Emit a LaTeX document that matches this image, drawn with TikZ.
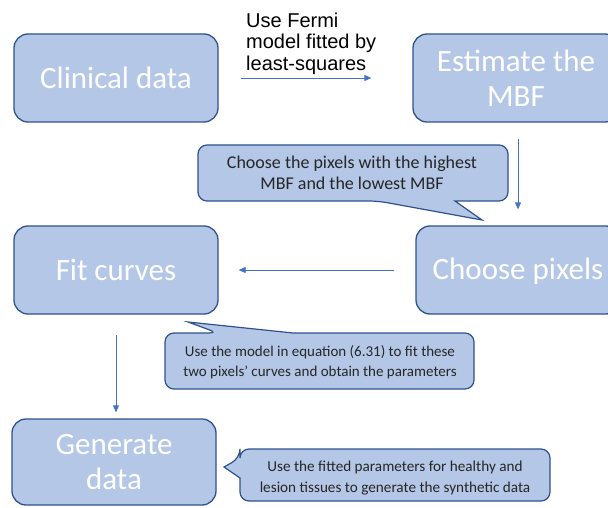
\documentclass[tikz,border=0pt]{standalone}
\usepackage{fontspec}
\setmainfont{Carlito}
\newfontfamily\arialfont{Liberation Sans}
\usetikzlibrary{arrows.meta}
\definecolor{boxfill}{HTML}{B4C7E7}
\definecolor{boxline}{HTML}{2F528F}
\definecolor{arrowblue}{HTML}{4472C4}
\tikzset{
  stepbox/.style={draw=boxline, line width=1.3pt, fill=boxfill, rounded corners=14pt,
    text=white, font=\fontsize{31}{35}\selectfont, align=center, inner sep=0pt},
  callout/.style={draw=boxline, line width=1.2pt, fill=boxfill},
  calltext/.style={text=black!85, align=center, inner sep=0pt},
  flow/.style={draw=arrowblue, line width=0.8pt, -{Triangle[length=7pt,width=6pt]}},
}
\begin{document}
\begin{tikzpicture}[x=1pt,y=-1pt]
\useasboundingbox (0,0) rectangle (608,508);

% process steps
\node[stepbox, minimum width=204pt, minimum height=88pt] (clin) at (116,78) {Clinical data};
\node[stepbox, minimum width=206pt, minimum height=88pt] (est) at (516,78) {Estimate the\\MBF};
\node[stepbox, minimum width=204pt, minimum height=88pt] (choose) at (518,270) {};
\node[text=white, font=\fontsize{31}{35}\selectfont, inner sep=0pt] (choosetxt) at (518,271) {Choose pixels};
\node[stepbox, minimum width=204pt, minimum height=88pt] (fit) at (116,270) {Fit curves};
\node[stepbox, minimum width=204pt, minimum height=86pt] (gen) at (114,462) {Generate\\data};

% label of the first step
\node[anchor=north west, align=left, inner sep=0pt, text=black,
      font=\arialfont\fontsize{20}{21.5}\selectfont] (fermi) at (246,12.5)
  {Use Fermi\\model fitted by\\least-squares};

% connectors
\draw[flow, shorten <=22pt, shorten >=41pt] (clin.east) -- (est.west);
\draw[flow, shorten <=16pt, shorten >=16pt] (est.south -| choose.north) -- (choose.north);
\draw[flow, shorten <=21pt, shorten >=20pt] (choose.west) -- (fit.east);
\draw[flow, shorten <=20pt, shorten >=6pt] (fit.south) -- (fit.south |- gen.north);

% callouts
\draw[callout] (300,145) [rounded corners=9pt] -- (198,145) -- (198,201) -- (378,201)
  [sharp corners] -- (482,220) -- (455,201) [rounded corners=9pt] -- (508,201) -- (508,145) -- cycle;
\node[calltext, font=\fontsize{18}{21.5}\selectfont] (c1) at (352,173)
  {Choose the pixels with the highest\\MBF and the lowest MBF};

\draw[callout] (350,389) [rounded corners=9pt] -- (165,389) -- (165,333) -- (218,333)
  [sharp corners] -- (188,322) -- (293,333) [rounded corners=9pt] -- (474,333) -- (474,389) -- cycle;
\node[calltext, font=\fontsize{15}{19.5}\selectfont] (c2) at (320,362)
  {Use the model in equation (6.31) to fit these\\two pixels' curves and obtain the parameters};

\draw[callout] (400,449) [rounded corners=9pt] -- (240,449) -- (240,458)
  [sharp corners] -- (224,467) -- (240,478) [rounded corners=9pt] -- (240,501) -- (550,501) -- (550,449) -- cycle;
\node[calltext, font=\fontsize{15.2}{20.5}\selectfont] (c3) at (395,478)
  {Use the fitted parameters for healthy and\\lesion tissues to generate the synthetic data};
\end{tikzpicture}
\end{document}
